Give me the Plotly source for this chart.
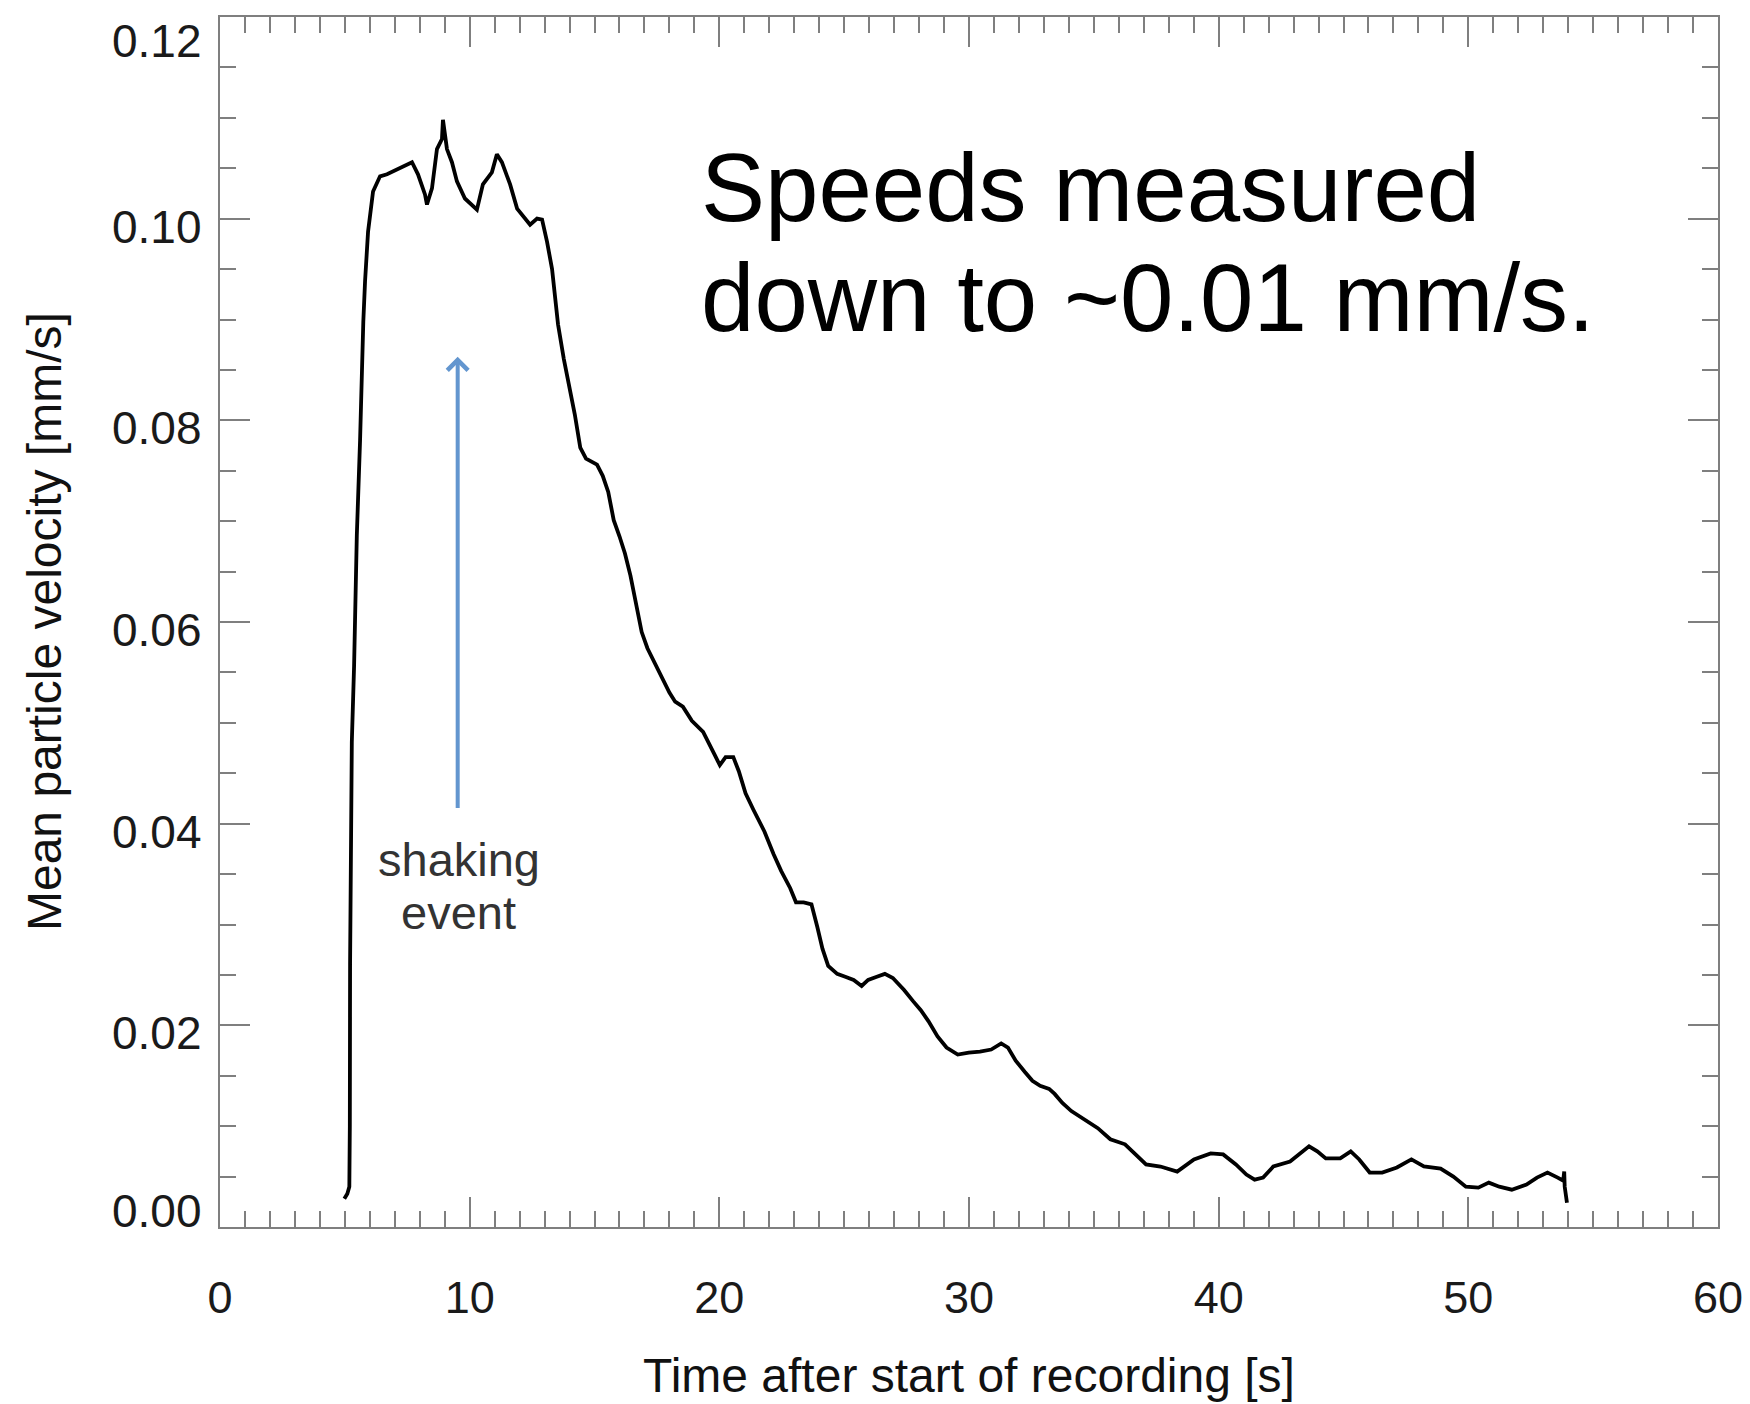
import plotly.graph_objects as go

# ---- data ----
time_s = [4.98, 5.10, 5.18, 5.20, 5.21, 5.24, 5.28, 5.37, 5.48, 5.61, 5.68, 5.74, 5.81, 5.93,
          6.13, 6.41, 6.69, 7.21, 7.69, 7.93, 8.21, 8.29, 8.49, 8.69, 8.89, 8.93, 9.09, 9.29,
          9.49, 9.81, 10.09, 10.29, 10.53, 10.89, 11.09, 11.29, 11.62, 11.90, 12.42, 12.70,
          12.90, 13.10, 13.30, 13.54, 13.77, 13.99, 14.21, 14.43, 14.66, 15.10, 15.33, 15.55,
          15.77, 16.00, 16.22, 16.44, 16.67, 16.89, 17.12, 17.56, 18.00, 18.23, 18.54, 18.90,
          19.35, 19.80, 20.02, 20.25, 20.56, 20.78, 21.05, 21.36, 21.81, 22.17, 22.48, 22.84,
          23.07, 23.38, 23.69, 23.92, 24.13, 24.36, 24.72, 25.07, 25.38, 25.70, 25.96, 26.28,
          26.63, 26.95, 27.40, 27.76, 28.07, 28.38, 28.74, 29.10, 29.55, 29.99, 30.44, 30.89,
          31.29, 31.56, 31.87, 32.23, 32.54, 32.85, 33.21, 33.43, 33.74, 34.10, 34.55, 35.00,
          35.16, 35.66, 36.25, 36.67, 37.09, 37.67, 38.34, 39.01, 39.68, 40.18, 40.69, 41.11,
          41.44, 41.78, 42.19, 42.86, 43.20, 43.62, 43.95, 44.29, 44.87, 45.29, 45.63, 46.05,
          46.55, 47.14, 47.72, 48.22, 48.89, 49.40, 49.90, 50.40, 50.82, 51.24, 51.74, 52.33,
          52.75, 53.17, 53.58, 53.80, 53.84, 53.86, 53.95]
velocity = [0.0028, 0.0033, 0.0040, 0.0100, 0.0260, 0.0345, 0.0481, 0.0556, 0.0686, 0.0780,
            0.0849, 0.0898, 0.0938, 0.0987, 0.1027, 0.1042, 0.1044, 0.1050, 0.1056, 0.1044,
            0.1024, 0.1014, 0.1030, 0.1069, 0.1079, 0.1098, 0.1069, 0.1056, 0.1037, 0.1020,
            0.1014, 0.1009, 0.1034, 0.1046, 0.1064, 0.1056, 0.1034, 0.1010, 0.0994, 0.1000,
            0.0999, 0.0977, 0.0950, 0.0895, 0.0861, 0.0834, 0.0806, 0.0773, 0.0762, 0.0756,
            0.0745, 0.0729, 0.0701, 0.0685, 0.0668, 0.0646, 0.0618, 0.0590, 0.0574, 0.0552,
            0.0530, 0.0521, 0.0516, 0.0502, 0.0491, 0.0469, 0.0458, 0.0466, 0.0466, 0.0452,
            0.0430, 0.0414, 0.0392, 0.0370, 0.0353, 0.0336, 0.0322, 0.0322, 0.0320, 0.0298,
            0.0276, 0.0259, 0.0251, 0.0248, 0.0245, 0.0239, 0.0245, 0.0248, 0.0251, 0.0247,
            0.0235, 0.0224, 0.0215, 0.0204, 0.0189, 0.0178, 0.0171, 0.0173, 0.0174, 0.0176,
            0.0182, 0.0178, 0.0165, 0.0154, 0.0145, 0.0140, 0.0137, 0.0132, 0.0123, 0.0115,
            0.0108, 0.0101, 0.0098, 0.0087, 0.0082, 0.0072, 0.0062, 0.0060, 0.0055, 0.0067,
            0.0073, 0.0072, 0.0062, 0.0052, 0.0047, 0.0049, 0.0060, 0.0065, 0.0072, 0.0080,
            0.0075, 0.0068, 0.0068, 0.0075, 0.0067, 0.0054, 0.0054, 0.0059, 0.0067, 0.0060,
            0.0058, 0.0050, 0.0040, 0.0039, 0.0044, 0.0040, 0.0037, 0.0042, 0.0049, 0.0054,
            0.0049, 0.0046, 0.0055, 0.0040, 0.0024]

x_ticks = [0, 10, 20, 30, 40, 50, 60]
x_tick_labels = ["0", "10", "20", "30", "40", "50", "60"]
y_ticks = [0.00, 0.02, 0.04, 0.06, 0.08, 0.10, 0.12]
y_tick_labels = ["0.00", "0.02", "0.04", "0.06", "0.08", "0.10", "0.12"]

x_title = "Time after start of recording [s]"
y_title = "Mean particle velocity [mm/s]"
headline = ["Speeds measured", "down to ~0.01 mm/s."]
event_label = ["shaking", "event"]
event_time = 9.52
event_arrow_tip = 0.0863
event_arrow_tail = 0.0414

FONT = "Liberation Sans, Arial, Helvetica, sans-serif"
AXIS_GRAY = "#7f7f7f"
TICK_FONT = dict(family=FONT, size=46, color="#1a1a1a")
TITLE_FONT = dict(family=FONT, size=48, color="#111111")

# the page body has an 8px default margin; the figure is sized to fill the rest
BODY = 8
W, H = 1750 - BODY, 1404 - BODY

fig = go.Figure()
fig.add_trace(go.Scatter(x=time_s, y=velocity, mode="lines",
                         line=dict(color="black", width=3.8), showlegend=False))

axis_common = dict(
    showline=True, linecolor=AXIS_GRAY, linewidth=2, mirror="ticks",
    ticks="inside", tickcolor=AXIS_GRAY, tickwidth=2, ticklen=30,
    showgrid=False, zeroline=False,
)

fig.update_xaxes(
    range=[0, 60], tickvals=x_ticks, ticktext=x_tick_labels,
    tickfont=dict(family=FONT, size=45, color="#1a1a1a"),
    minor=dict(dtick=1, ticks="inside", ticklen=16, tickcolor=AXIS_GRAY, tickwidth=2, showgrid=False),
    ticklabelstandoff=30,
    title=dict(text=x_title, font=TITLE_FONT, standoff=36),
    **axis_common,
)
fig.update_yaxes(
    range=[0, 0.12], tickvals=y_ticks, showticklabels=False,
    minor=dict(dtick=0.005, ticks="inside", ticklen=16, tickcolor=AXIS_GRAY, tickwidth=2, showgrid=False),
    **axis_common,
)

# y tick labels (sit a little below their ticks; the end labels are nudged inward)
for i, (val, lab) in enumerate(zip(y_ticks, y_tick_labels)):
    if i == 0:
        shift = 16
    elif i == len(y_ticks) - 1:
        shift = -24
    else:
        shift = -8
    fig.add_annotation(x=0, y=val, xref="paper", yref="y", text=lab, showarrow=False,
                       xanchor="right", yanchor="middle", xshift=-16, yshift=shift,
                       font=TICK_FONT)

# y axis title
fig.add_annotation(x=0, y=0.5, xref="paper", yref="paper", text=y_title, showarrow=False,
                   textangle=-90, xanchor="center", yanchor="middle", xshift=-176,
                   font=TITLE_FONT)

# headline text
fig.add_annotation(x=19.18, y=0.1031, xref="x", yref="y", text=headline[0], showarrow=False,
                   xanchor="left", yanchor="middle",
                   font=dict(family=FONT, size=96, color="black"))
fig.add_annotation(x=19.18, y=0.0922, xref="x", yref="y", text=headline[1], showarrow=False,
                   xanchor="left", yanchor="middle",
                   font=dict(family=FONT, size=96, color="black"))

# shaking event arrow + label
fig.add_annotation(x=event_time, y=event_arrow_tip, ax=event_time, ay=event_arrow_tail,
                   xref="x", yref="y", axref="x", ayref="y", text="", showarrow=True,
                   arrowhead=4, arrowsize=1.0, arrowwidth=4, arrowcolor="#6396cf")
fig.add_annotation(x=event_time + 0.05, y=0.0364, xref="x", yref="y", text=event_label[0],
                   showarrow=False, xanchor="center", yanchor="middle",
                   font=dict(family=FONT, size=47, color="#333333"))
fig.add_annotation(x=event_time + 0.05, y=0.0312, xref="x", yref="y", text=event_label[1],
                   showarrow=False, xanchor="center", yanchor="middle",
                   font=dict(family=FONT, size=47, color="#333333"))

fig.update_layout(
    width=W, height=H,
    margin=dict(l=220 - BODY, r=32, t=15 - BODY, b=177),
    paper_bgcolor="white", plot_bgcolor="white",
    font=dict(family=FONT),
)

fig.write_html("out.html")
